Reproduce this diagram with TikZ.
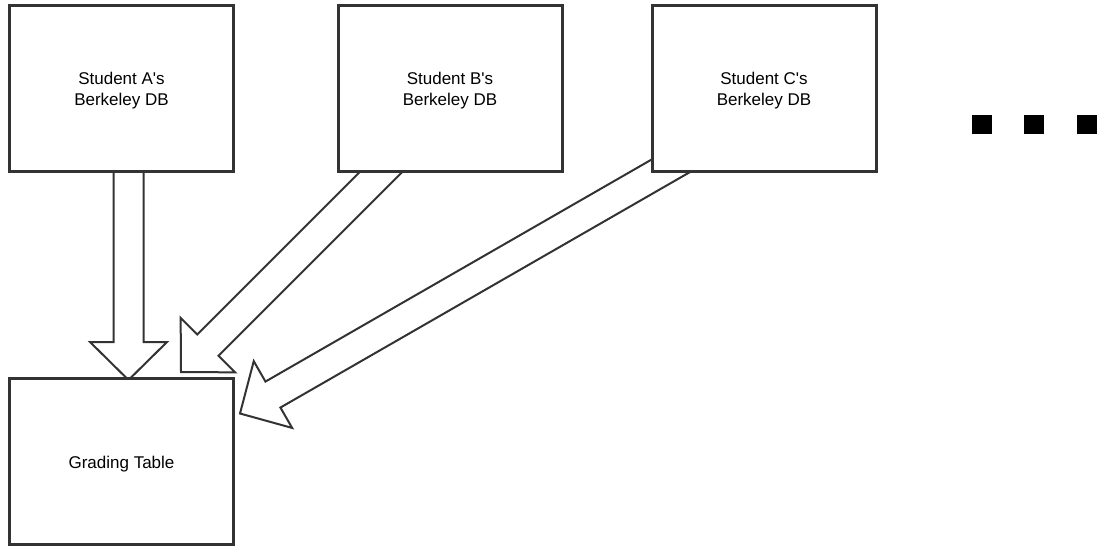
\documentclass[tikz,border=0pt]{standalone}
\usepackage{fontspec}
\setmainfont{Liberation Sans}
\usetikzlibrary{calc}
\pgfdeclarelayer{background}
\pgfsetlayers{background,main}
\definecolor{boxgray}{HTML}{333333}
\definecolor{arrowgray}{HTML}{333333}
\tikzset{
  dbbox/.style={draw=boxgray, line width=3pt, fill=white, minimum width=224pt,
    minimum height=166pt, inner sep=0pt, align=center,
    font=\fontsize{17}{21}\selectfont},
  onelinebox/.style={dbbox, text height=17pt},
  twolinebox/.style={dbbox, text height=38.5pt},
  blockarrowstyle/.style={draw=arrowgray, line width=2pt, fill=white, line join=miter},
  dotsq/.style={fill=black, minimum width=20pt, minimum height=19pt, inner sep=0pt}
}
\newcommand{\blockarrow}[2]{%
  \coordinate (ba-s1) at ($(#1)!15pt!90:(#2)$);
  \coordinate (ba-s2) at ($(#1)!15pt!-90:(#2)$);
  \coordinate (ba-h) at ($(#2)!38pt!(#1)$);
  \coordinate (ba-h1) at ($(ba-h)!15pt!90:(#2)$);
  \coordinate (ba-h2) at ($(ba-h)!15pt!-90:(#2)$);
  \coordinate (ba-b1) at ($(ba-h)!38.5pt!90:(#2)$);
  \coordinate (ba-b2) at ($(ba-h)!38.5pt!-90:(#2)$);
  \draw[blockarrowstyle] (ba-s1) -- (ba-h1) -- (ba-b1) -- (#2) -- (ba-b2) -- (ba-h2) -- (ba-s2) -- cycle;
}
\begin{document}
\begin{tikzpicture}[x=1pt,y=-1pt]
  \useasboundingbox (0,0) rectangle (1097,546);
  \node[twolinebox] (A) at (121.5,88) {Student A\textquotesingle s\\Berkeley DB};
  \node[twolinebox] (B) at (450,88) {Student B\textquotesingle s\\Berkeley DB};
  \node[twolinebox] (C) at (764,88) {Student C\textquotesingle s\\Berkeley DB};
  \node[onelinebox] (G) at (121.5,461.5) {Grading Table};
  \node[dotsq] (d1) at (982,124.5) {};
  \node[dotsq] (d2) at (1034,124.5) {};
  \node[dotsq] (d3) at (1087,124.5) {};
  \coordinate (sA) at ($(A.center)+(7,0)$);
  \coordinate (tA) at ($(G.center)+(7,-81.5)$);
  \coordinate (sB) at ($(B.center)+(-47,62)$);
  \coordinate (tB) at ($(G.center)+(59.5,-89.5)$);
  \coordinate (sC) at ($(C.center)+(-64,61)$);
  \coordinate (tC) at ($(G.center)+(118.5,-48)$);
  \begin{pgfonlayer}{background}
    \blockarrow{sA}{tA}
    \blockarrow{sB}{tB}
    \blockarrow{sC}{tC}
  \end{pgfonlayer}
\end{tikzpicture}
\end{document}
